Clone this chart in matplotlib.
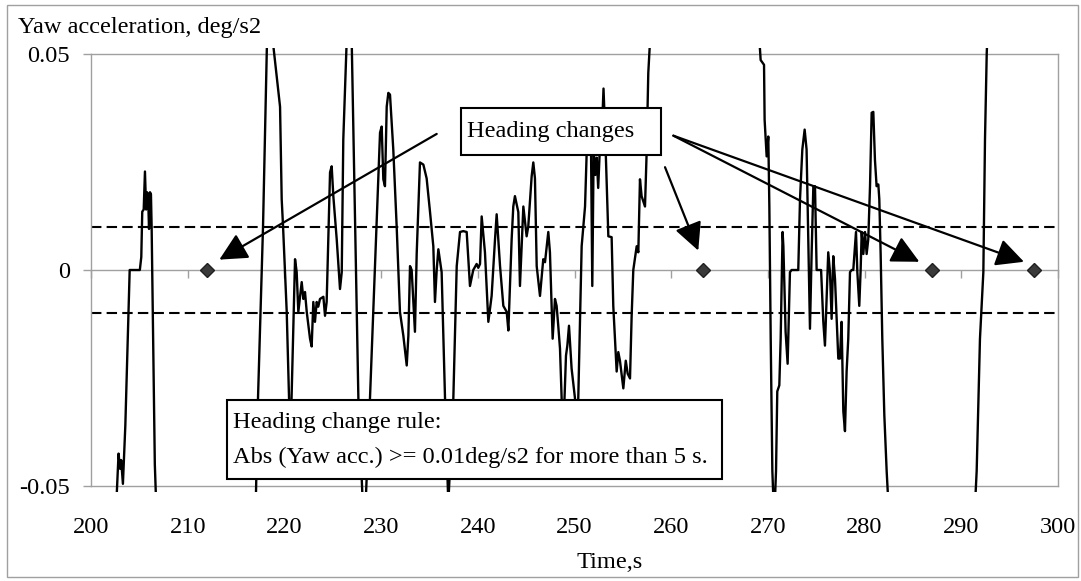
import matplotlib
matplotlib.use('Agg')
import matplotlib.pyplot as plt
from matplotlib.patches import Rectangle

plt.rcParams['font.family'] = ['Liberation Serif', 'DejaVu Serif']

# yaw acceleration trace (time in s, deg/s2); values beyond +-0.05 run off the chart
time_s = [
    202.5, 202.85, 203.0, 203.12, 203.3, 203.55, 204.0, 205.05, 205.2, 205.3,
    205.45, 205.58, 205.7, 205.8, 205.9, 206.0, 206.1, 206.2, 206.27, 206.6,
    206.8, 212.0, 217.0, 217.27, 217.79, 218.2, 218.5, 218.8, 219.55, 219.72,
    219.86, 220.24, 220.48, 220.65, 220.74, 221.1, 221.27, 221.44, 221.79, 221.96,
    222.13, 222.31, 222.65, 222.82, 222.99, 223.16, 223.34, 223.5, 223.68, 224.03,
    224.2, 224.37, 224.72, 224.89, 225.06, 225.41, 225.75, 225.93, 226.09, 226.44,
    226.7, 226.96, 227.3, 227.65, 228.25, 228.85, 229.37, 229.89, 230.06, 230.23,
    230.4, 230.58, 230.75, 230.92, 231.26, 231.61, 231.95, 232.3, 232.65, 232.82,
    232.99, 233.16, 233.5, 233.68, 234.02, 234.37, 234.71, 235.06, 235.4, 235.57,
    235.75, 235.92, 236.26, 236.61, 236.95, 237.47, 237.82, 238.16, 238.5, 238.85,
    239.19, 239.53, 239.88, 240.05, 240.23, 240.4, 240.74, 241.09, 241.43, 241.78,
    241.95, 242.3, 242.64, 242.99, 243.16, 243.5, 243.67, 243.84, 244.19, 244.36,
    244.53, 244.71, 245.05, 245.22, 245.57, 245.74, 245.91, 246.09, 246.43, 246.77,
    246.95, 247.29, 247.46, 247.74, 247.98, 248.15, 248.32, 248.5, 248.67, 248.84,
    249.12, 249.26, 249.43, 249.7, 250.05, 250.22, 250.39, 250.74, 251.09, 251.26,
    251.45, 251.7, 251.84, 251.98, 252.15, 252.3, 252.45, 252.6, 252.8, 253.0,
    253.15, 253.5, 253.84, 254.01, 254.36, 254.53, 254.7, 255.05, 255.3, 255.5,
    255.74, 255.91, 256.08, 256.43, 256.6, 256.77, 256.94, 257.29, 257.46, 257.63,
    257.81, 263.0, 269.1, 269.25, 269.6, 269.66, 269.87, 270.04, 270.15, 270.29,
    270.46, 270.65, 270.84, 270.97, 271.18, 271.32, 271.52, 271.6, 271.83, 272.04,
    272.28, 272.45, 273.14, 273.32, 273.56, 273.8, 274.0, 274.18, 274.35, 274.52,
    274.7, 274.87, 275.04, 275.5, 275.73, 275.9, 276.07, 276.24, 276.42, 276.59,
    276.76, 276.94, 277.28, 277.45, 277.62, 277.8, 277.97, 278.14, 278.31, 278.49,
    278.66, 278.83, 279.11, 279.25, 279.45, 279.59, 279.7, 279.87, 280.04, 280.21,
    280.38, 280.56, 280.73, 280.9, 281.07, 281.24, 281.42, 281.52, 281.66, 281.83,
    282.04, 282.28, 282.6, 287.0, 291.3, 291.59, 291.93, 292.28, 292.45, 292.63,
    292.8, 300.0,
]
yaw_acc = [
    -0.060, -0.0425, -0.046, -0.044, -0.0495, -0.036, 0.0, 0.0, 0.003, 0.0135,
    0.014, 0.0228, 0.014, 0.018, 0.0175, 0.0095, 0.018, 0.0175, 0.010, -0.045,
    -0.058, -0.075, -0.058, -0.0297, 0.0101, 0.053, 0.068, 0.053, 0.0378, 0.0164,
    0.0101, -0.0097, -0.0297, -0.040, -0.0297, 0.0025, -0.0005, -0.0097, -0.0028, -0.0067,
    -0.0051, -0.0097, -0.0159, -0.0177, -0.0074, -0.012, -0.0074, -0.0085, -0.0067, -0.0062,
    -0.0106, -0.0074, 0.0226, 0.024, 0.0171, 0.0071, -0.0044, -0.0005, 0.0302, 0.053,
    0.066, 0.053, 0.0118, -0.0297, -0.062, -0.0297, 0.0009, 0.0318, 0.0332, 0.021,
    0.0194, 0.0378, 0.041, 0.0406, 0.0279, 0.0101, -0.0097, -0.0152, -0.0221, -0.0152,
    0.0009, 0.0, -0.0143, 0.0037, 0.0249, 0.0244, 0.0212, 0.0134, 0.0055, -0.0074,
    0.0, 0.0048, -0.0005, -0.0297, -0.054, -0.0297, 0.0009, 0.0088, 0.009, 0.0088,
    -0.0037, 0.0, 0.0014, 0.0005, 0.0014, 0.0124, 0.0041, -0.012, -0.006, 0.0071,
    0.0129, 0.0009, -0.0083, -0.0097, -0.014, 0.0071, 0.0147, 0.0171, 0.0134, -0.0037,
    0.0055, 0.0147, 0.0078, 0.0101, 0.0217, 0.0249, 0.0212, 0.0009, -0.006, 0.0025,
    0.0018, 0.0088, 0.0041, -0.0159, -0.0067, -0.0083, -0.0129, -0.0182, -0.0297, -0.038,
    -0.0198, -0.0175, -0.0129, -0.0228, -0.0297, -0.042, -0.0297, 0.0055, 0.0147, 0.0272,
    0.032, 0.030, -0.0037, 0.028, 0.022, 0.026, 0.019, 0.027, 0.030, 0.042,
    0.033, 0.0078, 0.0076, -0.0083, -0.0235, -0.019, -0.021, -0.0274, -0.021, -0.024,
    -0.0251, -0.0106, 0.0, 0.0055, 0.0041, 0.021, 0.0171, 0.0147, 0.0272, 0.0456,
    0.053, 0.085, 0.054, 0.0486, 0.0475, 0.0348, 0.0263, 0.0309, 0.0147, -0.0159,
    -0.0465, -0.058, -0.0465, -0.0281, -0.0267, -0.0159, 0.0088, 0.0055, -0.0143, -0.0217,
    -0.0005, 0.0, 0.0, 0.0164, 0.0279, 0.0325, 0.0279, 0.0071, -0.0136, 0.0037,
    0.0194, 0.0194, 0.0, 0.0, -0.012, -0.0175, -0.0067, 0.0041, -0.0005, -0.0113,
    0.0032, -0.0021, -0.0205, -0.0205, -0.012, -0.0327, -0.0373, -0.0235, -0.0159, -0.0005,
    0.0, 0.0, 0.0088, -0.0005, -0.0083, 0.0, 0.0088, 0.0037, 0.0088, 0.0037,
    0.0071, 0.0194, 0.0364, 0.0366, 0.0255, 0.0194, 0.0198, 0.0164, 0.0037, -0.0159,
    -0.0336, -0.0465, -0.06, -0.08, -0.06, -0.0465, -0.0159, -0.0005, 0.0302, 0.0502,
    0.06, 0.08,
]

# detected heading changes
change_times = [212.0, 263.3, 287.0, 297.5]
change_level = [0.0, 0.0, 0.0, 0.0]

threshold = 0.01
x_ticks = list(range(200, 301, 10))
y_ticks = [-0.05, 0.0, 0.05]
y_ticklabels = ['-0.05', '0', '0.05']

W, H = 1081, 581
GRAY = '#a0a0a0'
FS = 17.6


def fig_xy(px, py):
    # pixel position (from top-left) -> figure fraction
    return px / W, 1 - py / H


fig = plt.figure(figsize=(W / 100, H / 100), dpi=100)
ax = fig.add_axes([91 / W, 1 - 486 / H, (1058 - 91) / W, (486 - 54) / H])
ax.set_xlim(200, 300)
ax.set_ylim(-0.05, 0.05)

for s in ax.spines.values():
    s.set_color(GRAY)
    s.set_linewidth(1)

ax.set_xticks(x_ticks)
ax.tick_params(axis='x', length=0, pad=22, labelsize=FS)
ax.set_yticks(y_ticks)
ax.set_yticklabels(y_ticklabels)
ax.tick_params(axis='y', length=6, width=1, color=GRAY, pad=9, labelsize=FS)

# x axis crossing at zero, ticks only
zero_axis = ax.secondary_xaxis(0.5)
zero_axis.set_alignment('bottom')
zero_axis.set_xticks(x_ticks)
zero_axis.tick_params(axis='x', length=6, width=1, color=GRAY, labelbottom=False)
zero_axis.spines['bottom'].set_color(GRAY)
zero_axis.spines['bottom'].set_linewidth(1)

line, = ax.plot(time_s, yaw_acc, color='black', lw=1.7, zorder=3)
line.set_clip_path(Rectangle((200, -0.0515), 100, 0.1028, transform=ax.transData))

for lvl in (threshold, -threshold):
    ax.axhline(lvl, color='black', lw=1.5, ls=(0, (5, 2.5)), zorder=2)

ax.plot(change_times, change_level, 'D', color='#3a3a3a', mec='#202020',
        ms=7.5, zorder=4)

arrow_props = dict(arrowstyle='-|>,head_length=1.0,head_width=0.5',
                   mutation_scale=17, lw=1.6, color='black',
                   shrinkA=0, shrinkB=0)
arrows = [
    ((235.75, 0.0315), (213.27, 0.0024)),
    ((259.36, 0.0238), (262.80, 0.0045)),
    ((260.22, 0.0311), (285.66, 0.0019)),
    ((260.22, 0.0311), (296.48, 0.0019)),
]
for start, tip in arrows:
    ax.annotate('', xy=tip, xytext=start, arrowprops=arrow_props, zorder=5)


def text_box(x0, y0, x1, y1):
    fx0, fy1 = fig_xy(x0, y1)
    fig.add_artist(Rectangle((fx0, fy1), (x1 - x0) / W, (y1 - y0) / H,
                             transform=fig.transFigure, fc='white',
                             ec='black', lw=1.5, zorder=5))


text_box(461, 108, 661, 155)
fig.text(*fig_xy(467, 137), 'Heading changes', fontsize=FS, va='baseline', zorder=6)

text_box(227, 400, 722, 479)
fig.text(*fig_xy(233, 428), 'Heading change rule:', fontsize=FS, va='baseline', zorder=6)
fig.text(*fig_xy(233, 463), 'Abs (Yaw acc.) >= 0.01deg/s2 for more than 5 s.',
         fontsize=FS, va='baseline', zorder=6)

fig.text(*fig_xy(18, 33), 'Yaw acceleration, deg/s2', fontsize=FS, va='baseline')
fig.text(*fig_xy(610, 568), 'Time,s', fontsize=FS, ha='center', va='baseline')

# outer chart border
bx0, by1 = fig_xy(7, 577)
fig.add_artist(Rectangle((bx0, by1), (1078 - 7) / W, (577 - 5) / H,
                         transform=fig.transFigure, fc='none', ec=GRAY, lw=1))

fig.savefig('out.png', dpi=100)
